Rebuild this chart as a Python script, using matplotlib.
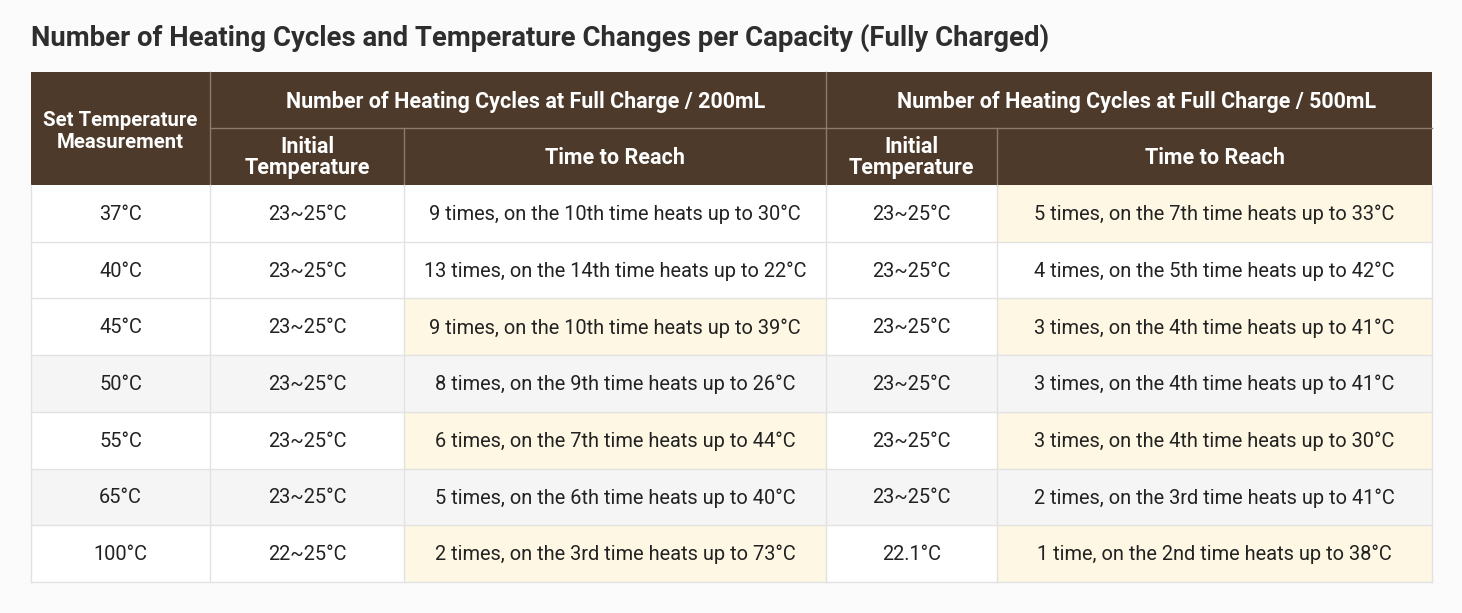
import matplotlib
matplotlib.use("Agg")
import matplotlib.pyplot as plt
from matplotlib.patches import Rectangle

plt.rcParams['font.family'] = ['Roboto', 'DejaVu Sans']

title = "Number of Heating Cycles and Temperature Changes per Capacity (Fully Charged)"
group_headers = ["Number of Heating Cycles at Full Charge / 200mL",
                 "Number of Heating Cycles at Full Charge / 500mL"]
first_header = "Set Temperature\nMeasurement"
sub_headers = ["Initial\nTemperature", "Time to Reach", "Initial\nTemperature", "Time to Reach"]

set_temps = ["37°C", "40°C", "45°C", "50°C", "55°C", "65°C", "100°C"]
init_200 = ["23~25°C", "23~25°C", "23~25°C", "23~25°C", "23~25°C", "23~25°C", "22~25°C"]
reach_200 = ["9 times, on the 10th time heats up to 30°C",
             "13 times, on the 14th time heats up to 22°C",
             "9 times, on the 10th time heats up to 39°C",
             "8 times, on the 9th time heats up to 26°C",
             "6 times, on the 7th time heats up to 44°C",
             "5 times, on the 6th time heats up to 40°C",
             "2 times, on the 3rd time heats up to 73°C"]
init_500 = ["23~25°C", "23~25°C", "23~25°C", "23~25°C", "23~25°C", "23~25°C", "22.1°C"]
reach_500 = ["5 times, on the 7th time heats up to 33°C",
             "4 times, on the 5th time heats up to 42°C",
             "3 times, on the 4th time heats up to 41°C",
             "3 times, on the 4th time heats up to 41°C",
             "3 times, on the 4th time heats up to 30°C",
             "2 times, on the 3rd time heats up to 41°C",
             "1 time, on the 2nd time heats up to 38°C"]
highlight_200 = [False, False, True, False, True, False, True]
highlight_500 = [True, False, True, False, True, False, True]
shaded_rows = [False, False, False, True, False, True, False]

W, H = 1462, 613
fig = plt.figure(figsize=(W / 100, H / 100), dpi=100)
fig.patch.set_facecolor("#fbfbfb")
ax = fig.add_axes([0, 0, 1, 1])
ax.set_xlim(0, W)
ax.set_ylim(H, 0)
ax.axis("off")

HDR = "#4d3a2a"
YEL = "#fdf7e3"
GRY = "#f5f5f5"
LINE = "#e2e2e2"
TXT = "#222222"

cols = [31, 210, 404, 826, 997, 1432]
top = 72
h1 = 128
h2 = 185
row_h = (582 - h2) / len(set_temps)

ax.text(31, 38, title, fontsize=19.8, fontweight="bold", color="#2e2e2e",
        ha="left", va="center")

# header background
ax.add_patch(Rectangle((cols[0], top), cols[-1] - cols[0], h2 - top, facecolor=HDR, edgecolor="none"))
sep = "#8c7b6b"
ax.plot([cols[1], cols[1]], [top, h2], color=sep, lw=1)
ax.plot([cols[3], cols[3]], [top, h2], color=sep, lw=1)
ax.plot([cols[1], cols[-1]], [h1, h1], color=sep, lw=1)
ax.plot([cols[2], cols[2]], [h1, h2], color=sep, lw=1)
ax.plot([cols[4], cols[4]], [h1, h2], color=sep, lw=1)

ax.text((cols[0] + cols[1]) / 2, (top + h2) / 2 + 3, first_header, fontsize=14.7, fontweight="bold",
        color="white", ha="center", va="center", linespacing=1.25)
ax.text((cols[1] + cols[3]) / 2 + 8, (top + h1) / 2 + 2, group_headers[0], fontsize=15.5, fontweight="bold",
        color="white", ha="center", va="center")
ax.text((cols[3] + cols[5]) / 2 + 8, (top + h1) / 2 + 2, group_headers[1], fontsize=15.5, fontweight="bold",
        color="white", ha="center", va="center")
for i, sh in enumerate(sub_headers):
    ax.text((cols[i + 1] + cols[i + 2]) / 2, (h1 + h2) / 2 + 1, sh, fontsize=15.5, fontweight="bold",
            color="white", ha="center", va="center", linespacing=0.95)

dfs = 14.4
for r in range(len(set_temps)):
    y0 = h2 + r * row_h
    base = GRY if shaded_rows[r] else "white"
    ax.add_patch(Rectangle((cols[0], y0), cols[-1] - cols[0], row_h, facecolor=base, edgecolor="none"))
    if highlight_200[r]:
        ax.add_patch(Rectangle((cols[2], y0), cols[3] - cols[2], row_h, facecolor=YEL, edgecolor="none"))
    if highlight_500[r]:
        ax.add_patch(Rectangle((cols[4], y0), cols[5] - cols[4], row_h, facecolor=YEL, edgecolor="none"))
    vals = [set_temps[r], init_200[r], reach_200[r], init_500[r], reach_500[r]]
    for c, v in enumerate(vals):
        ax.text((cols[c] + cols[c + 1]) / 2, y0 + row_h / 2 + 1, v, fontsize=dfs, color=TXT,
                ha="center", va="center")
    ax.plot([cols[0], cols[-1]], [y0 + row_h, y0 + row_h], color=LINE, lw=1)

for x in cols:
    ax.plot([x, x], [h2, 582], color=LINE, lw=1)

fig.savefig("out.png", dpi=100, facecolor=fig.get_facecolor())
